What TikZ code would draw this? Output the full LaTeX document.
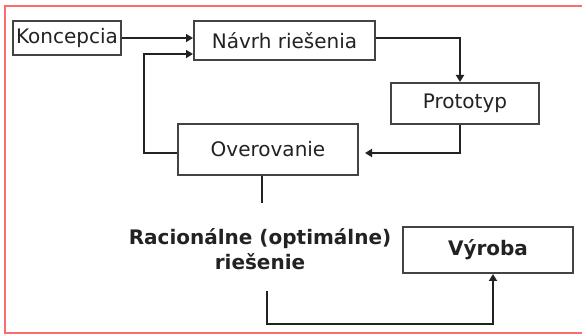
\documentclass[tikz,border=0pt]{standalone}
\usepackage{fontspec}
\setmainfont{DejaVu Sans}
\usetikzlibrary{arrows.meta}
\definecolor{frame}{HTML}{FF6B6B}
\definecolor{ink}{HTML}{222222}
\begin{document}
\begin{tikzpicture}[x=1pt,y=-1pt,
  box/.style={draw=ink!85,line width=2pt,fill=white,inner sep=0pt,text=ink,font=\fontsize{20}{24}\selectfont},
  flow/.style={draw=ink,line width=2.2pt,-{Triangle[length=7pt,width=8pt]}},
  plain/.style={draw=ink,line width=2.2pt}]
\useasboundingbox (0,0) rectangle (582,334);
% outer frame, open on the right
\draw[frame,line width=1.4pt] (590,6) -- (5,6) -- (5,333) -- (590,333);

% process boxes
\node[box,minimum width=108pt,minimum height=34pt] (konc) at (67,38) {Koncepcia};
\node[box,minimum width=181pt,minimum height=39pt] (navrh) at (284.5,40.5) {Návrh riešenia};
\node[box,minimum width=148pt,minimum height=41pt] (proto) at (465,103.5) {Prototyp};
\node[box,minimum width=180pt,minimum height=51pt] (over) at (268,149.5) {Overovanie};
\node[box,minimum width=170pt,minimum height=46pt,font=\fontsize{20}{24}\selectfont\bfseries] (vyr) at (488,250) {Výroba};

% result label
\node[align=center,text=ink,font=\fontsize{20}{25}\selectfont\bfseries,inner sep=0pt] (rac) at (260,249) {Racionálne (optimálne)\\riešenie};

% connectors
\coordinate (navrhIn) at (navrh.west |- 0,38);
\coordinate (navrhIn2) at (navrh.west |- 0,54);
\coordinate (overOut) at (over.west |- 0,153);
\coordinate (overIn) at (365,153);
\coordinate (overDown) at (262,203);
\coordinate (racDown) at (267,291);

\draw[flow] (konc.east |- navrhIn) -- (navrhIn);
\draw[flow] (overOut) -- (144,153) -- (144,54) -- (navrhIn2);
\draw[flow] (navrh.east |- 0,38) -- (460,38) -- (460,0 |- proto.north);
\draw[flow] (460,0 |- proto.south) -- (460,153) -- (overIn);
\draw[plain] (262,0 |- over.south) -- (overDown);
\draw[flow] (racDown) -- (267,324) -- (493,324) -- (493,0 |- vyr.south);
\end{tikzpicture}
\end{document}
